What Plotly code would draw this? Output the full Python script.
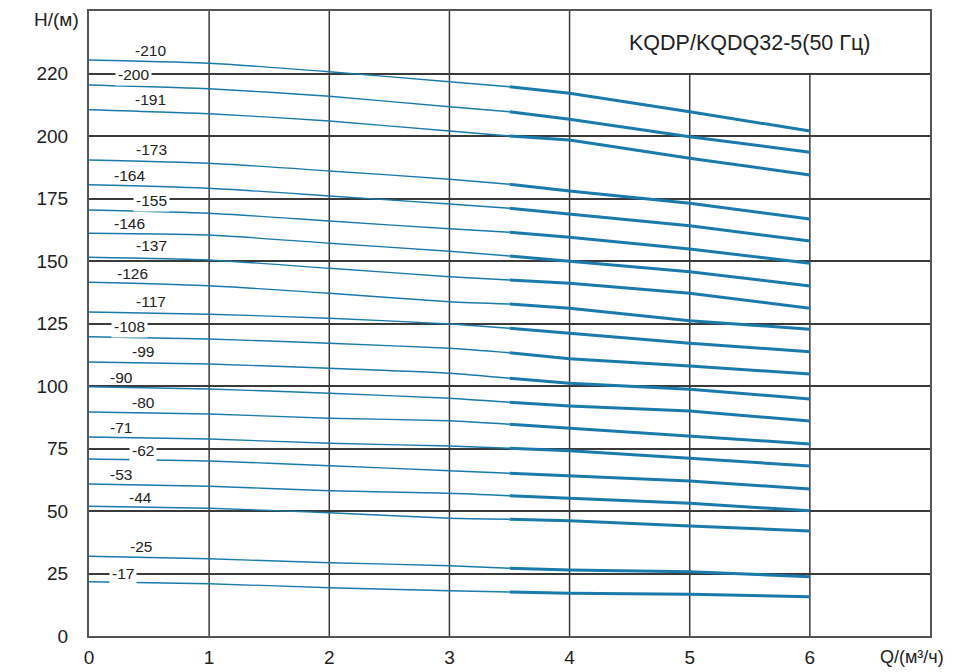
import plotly.graph_objects as go

# Flow points (m3/h)
Q = [0, 1, 2, 3, 3.5, 4, 5, 6]

curve_labels = ["-210", "-200", "-191", "-173", "-164", "-155", "-146", "-137", "-126", "-117",
                "-108", "-99", "-90", "-80", "-71", "-62", "-53", "-44", "-25", "-17"]

H_210 = [230.4, 229.1, 225.7, 221.7, 219.7, 217.1, 209.7, 202.0]
H_200 = [220.4, 218.9, 215.9, 211.7, 209.7, 206.7, 199.7, 193.5]
H_191 = [210.5, 208.9, 206.0, 202.0, 200.0, 198.4, 191.1, 184.4]
H_173 = [190.4, 189.1, 186.0, 182.7, 180.7, 178.0, 173.1, 166.8]
H_164 = [180.5, 179.1, 176.0, 172.8, 171.1, 168.8, 164.1, 158.0]
H_155 = [170.4, 169.1, 166.0, 162.9, 161.5, 159.5, 154.8, 149.1]
H_146 = [161.1, 160.4, 157.1, 153.9, 152.0, 150.0, 145.7, 140.0]
H_137 = [151.5, 150.4, 147.1, 143.7, 142.4, 141.1, 137.1, 131.1]
H_126 = [141.5, 140.1, 137.1, 133.7, 132.8, 131.1, 126.1, 122.7]
H_117 = [129.6, 128.7, 127.1, 124.8, 123.1, 121.1, 117.1, 113.7]
H_108 = [119.7, 118.8, 117.1, 115.1, 113.3, 110.9, 108.0, 104.8]
H_99 = [109.6, 108.8, 107.1, 105.1, 103.1, 101.1, 98.7, 94.8]
H_90 = [99.7, 98.8, 97.1, 95.1, 93.5, 92.0, 90.0, 86.0]
H_80 = [89.6, 88.8, 87.1, 86.1, 84.7, 83.1, 80.1, 76.8]
H_71 = [79.6, 78.8, 77.1, 76.0, 75.1, 74.1, 71.1, 68.0]
H_62 = [70.8, 70.0, 68.1, 66.1, 65.1, 64.1, 62.0, 58.8]
H_53 = [60.8, 59.9, 58.1, 57.1, 56.1, 55.1, 53.1, 50.1]
H_44 = [51.9, 51.1, 49.3, 47.1, 46.7, 46.1, 44.0, 42.0]
H_25 = [31.9, 30.9, 29.3, 28.1, 27.1, 26.4, 25.7, 23.7]
H_17 = [21.7, 20.9, 19.3, 18.1, 17.6, 17.1, 16.7, 15.7]

curves = [H_210, H_200, H_191, H_173, H_164, H_155, H_146, H_137, H_126, H_117,
          H_108, H_99, H_90, H_80, H_71, H_62, H_53, H_44, H_25, H_17]

# label positions (Q, H) and whether they sit on a grid line
label_q = [0.51, 0.37, 0.51, 0.52, 0.34, 0.52, 0.34, 0.52, 0.36, 0.52,
           0.34, 0.45, 0.27, 0.45, 0.27, 0.45, 0.27, 0.43, 0.43, 0.28]
label_h = [234.4, 224.8, 214.8, 194.8, 184.4, 174.4, 165.2, 156.4, 145.2, 134.0,
           124.0, 114.0, 103.6, 93.6, 83.6, 74.4, 64.8, 55.6, 36.0, 25.2]
label_on_grid = ["-200", "-155", "-108", "-62", "-17"]

# the top gridline sits at the 225 position but is labelled "220" in the original
y_tickvals = [0, 25, 50, 75, 100, 125, 150, 175, 200, 225]
y_ticktext = ["0", "25", "50", "75", "100", "125", "150", "175", "200", "220"]
x_ticks = [0, 1, 2, 3, 4, 5, 6]
box_bottom = 225

title_text = "KQDP/KQDQ32-5(50 Гц)"
y_name = "H/(м)"
x_name = "Q/(м³/ч)"

COL = "#1a7aab"
GRID = "#3a3a3a"
TXT = "#222222"
FONT = "Liberation Sans, Arial, sans-serif"

# figure geometry (page has an 8px body margin)
OFF = 8
W, Hh = 947, 664
L, R, T, B = 81, 25, 3, 36
pw, ph = W - L - R, Hh - T - B


def page_to_paper(px, py):
    fx, fy = px - OFF, py - OFF
    return (fx - L) / pw, (Hh - B - fy) / ph


fig = go.Figure()
split = Q.index(3.5)
for h in curves:
    fig.add_trace(go.Scatter(x=Q[:split + 1], y=h[:split + 1], mode="lines",
                             line=dict(color=COL, width=1.3, shape="spline", smoothing=0.6),
                             showlegend=False, hoverinfo="skip"))
    fig.add_trace(go.Scatter(x=Q[split:], y=h[split:], mode="lines",
                             line=dict(color=COL, width=3),
                             showlegend=False, hoverinfo="skip"))

shapes = []
for xv in [1, 2, 3, 4]:
    shapes.append(dict(type="line", xref="x", yref="y", x0=xv, x1=xv, y0=0, y1=250,
                       line=dict(color=GRID, width=1.5), layer="below"))
for xv in [5, 6]:
    shapes.append(dict(type="line", xref="x", yref="y", x0=xv, x1=xv, y0=0, y1=box_bottom,
                       line=dict(color=GRID, width=1.5), layer="below"))

annotations = []
for t, qx, hy in zip(curve_labels, label_q, label_h):
    a = dict(x=qx, y=hy, xref="x", yref="y", text=t, showarrow=False,
             xanchor="center", yanchor="middle",
             font=dict(family=FONT, size=15.5, color=TXT))
    if t in label_on_grid:
        a["bgcolor"] = "white"
        a["borderpad"] = 2
    annotations.append(a)

annotations.append(dict(x=5.5, y=237.3, xref="x", yref="y", text=title_text, showarrow=False,
                        xanchor="center", yanchor="middle",
                        font=dict(family=FONT, size=21.5, color=TXT)))

hx, hy = page_to_paper(56, 20)
annotations.append(dict(x=hx, y=hy, xref="paper", yref="paper", text=y_name, showarrow=False,
                        xanchor="center", yanchor="middle",
                        font=dict(family=FONT, size=19, color=TXT)))
qx, qy = page_to_paper(912, 657)
annotations.append(dict(x=qx, y=qy, xref="paper", yref="paper", text=x_name, showarrow=False,
                        xanchor="center", yanchor="middle",
                        font=dict(family=FONT, size=18, color=TXT)))

fig.update_layout(
    width=W, height=Hh,
    margin=dict(l=L, r=R, t=T, b=B, autoexpand=False),
    paper_bgcolor="white", plot_bgcolor="white",
    shapes=shapes, annotations=annotations,
    xaxis=dict(range=[0, 7], tickvals=x_ticks, showgrid=False, zeroline=False,
               showline=True, linecolor="#555555", linewidth=2, mirror=True,
               ticks="", ticklabelstandoff=3,
               tickfont=dict(family=FONT, size=19, color=TXT)),
    yaxis=dict(range=[0, 250], tickvals=y_tickvals, ticktext=y_ticktext,
               showgrid=True, gridcolor=GRID, gridwidth=1.5,
               zeroline=False, showline=True, linecolor="#555555", linewidth=2, mirror=True,
               ticks="", ticklabelstandoff=15,
               tickfont=dict(family=FONT, size=19, color=TXT)),
)

fig.write_html("out.html")
